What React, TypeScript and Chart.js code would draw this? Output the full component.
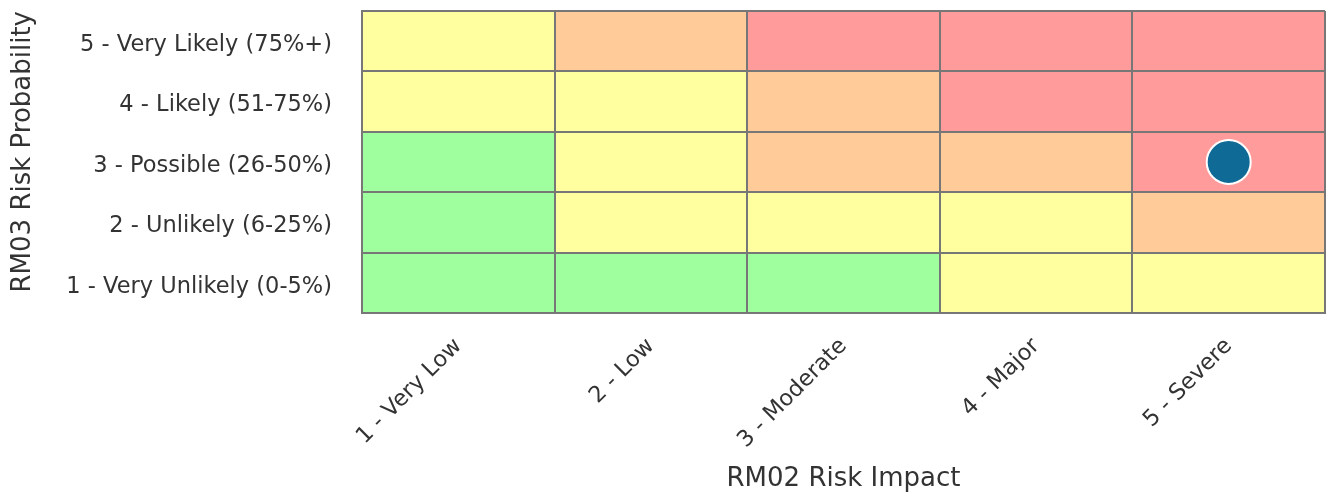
import React, { useEffect, useRef } from "react";
import { Chart, registerables } from "chart.js";

Chart.register(...registerables);

const impactLabels = ["1 - Very Low", "2 - Low", "3 - Moderate", "4 - Major", "5 - Severe"];
const probabilityLabels = [
  "1 - Very Unlikely (0-5%)",
  "2 - Unlikely (6-25%)",
  "3 - Possible (26-50%)",
  "4 - Likely (51-75%)",
  "5 - Very Likely (75%+)",
];
// risk level per probability row (1..5), per impact column (1..5)
const riskLevels = [
  ["low", "low", "low", "medium", "medium"],
  ["low", "medium", "medium", "medium", "high"],
  ["low", "medium", "high", "high", "extreme"],
  ["medium", "medium", "high", "extreme", "extreme"],
  ["medium", "high", "extreme", "extreme", "extreme"],
];
const levelColors: Record<string, string> = {
  low: "#9fff9f",
  medium: "#ffff9f",
  high: "#ffcc99",
  extreme: "#ff9b9b",
};
const riskImpact = [5];
const riskProbability = [3];

const FONT = "'DejaVu Sans', Verdana, sans-serif";

export default function App() {
  const ref = useRef<HTMLCanvasElement | null>(null);
  useEffect(() => {
    if (!ref.current) return;
    const cellSets: any[] = probabilityLabels.map((p, i) => ({
      type: "bar",
      label: p,
      data: impactLabels.map(() => [i, i + 1]),
      backgroundColor: riskLevels[i].map((l) => levelColors[l]),
      borderWidth: 0,
      barPercentage: 1,
      categoryPercentage: 1,
      grouped: false,
      order: 2,
    }));
    const pointSet: any = {
      type: "line",
      label: "Risk",
      data: impactLabels.map((_, idx) => {
        const k = riskImpact.indexOf(idx + 1);
        return k >= 0 ? riskProbability[k] - 0.5 : null;
      }),
      showLine: false,
      pointRadius: 22,
      pointHoverRadius: 22,
      pointBorderWidth: 2,
      pointBorderColor: "#ffffff",
      pointBackgroundColor: "#106a96",
      order: 0,
    };
    const chart = new Chart(ref.current, {
      type: "bar",
      data: { labels: impactLabels, datasets: [...cellSets, pointSet] },
      options: {
        animation: false,
        responsive: false,
        events: [],
        layout: { autoPadding: false, padding: { top: 11, right: 2, bottom: 0, left: 8 } },
        plugins: { legend: { display: false }, tooltip: { enabled: false } },
        scales: {
          x: {
            type: "category",
            offset: true,
            afterFit: (axis: any) => {
              axis.paddingLeft = 0;
              axis.paddingRight = 0;
              axis.height = 182;
            },
            grid: { offset: true, color: "#777777", lineWidth: 2, drawTicks: false, z: 1 },
            border: { display: true, color: "#777777", width: 2, z: 1 },
            ticks: {
              minRotation: 45,
              maxRotation: 45,
              padding: 20,
              color: "#333333",
              font: { family: FONT, size: 22.5 },
            },
            title: {
              display: true,
              text: "RM02 Risk Impact",
              color: "#333333",
              font: { family: FONT, size: 26 },
              padding: { top: 8, bottom: 0 },
            },
          },
          y: {
            type: "linear",
            position: "left",
            weight: 0,
            min: 0,
            max: 5,
            afterFit: (axis: any) => {
              axis.width = 0;
              axis.paddingTop = 0;
              axis.paddingBottom = 0;
            },
            ticks: { display: false, stepSize: 1 },
            grid: { color: "#777777", lineWidth: 2, drawTicks: false, z: 1 },
            border: { display: true, color: "#777777", width: 2, z: 1 },
          },
          yl: {
            type: "linear",
            position: "left",
            weight: 10,
            min: 0,
            max: 5,
            afterBuildTicks: (axis: any) => {
              axis.ticks = probabilityLabels.map((_, i) => ({ value: i + 0.5 }));
            },
            afterFit: (axis: any) => {
              axis.width = 354;
              axis.paddingTop = 0;
              axis.paddingBottom = 0;
            },
            ticks: {
              padding: 30,
              labelOffset: 4,
              color: "#333333",
              font: { family: FONT, size: 22.5 },
              callback: (v: any) => probabilityLabels[Math.floor(Number(v))] ?? "",
            },
            grid: { display: false, drawTicks: false },
            border: { display: false },
            title: {
              display: true,
              align: "end",
              text: "RM03 Risk Probability",
              color: "#333333",
              font: { family: FONT, size: 26 },
              padding: { top: 0, bottom: 4 },
            },
          },
        },
      } as any,
    });
    return () => chart.destroy();
  }, []);
  return (
    <div style={{ position: "fixed", left: 0, top: 0, width: 1327, height: 495, background: "#fff" }}>
      <canvas ref={ref} width={1327} height={495} style={{ width: 1327, height: 495 }} />
    </div>
  );
}
